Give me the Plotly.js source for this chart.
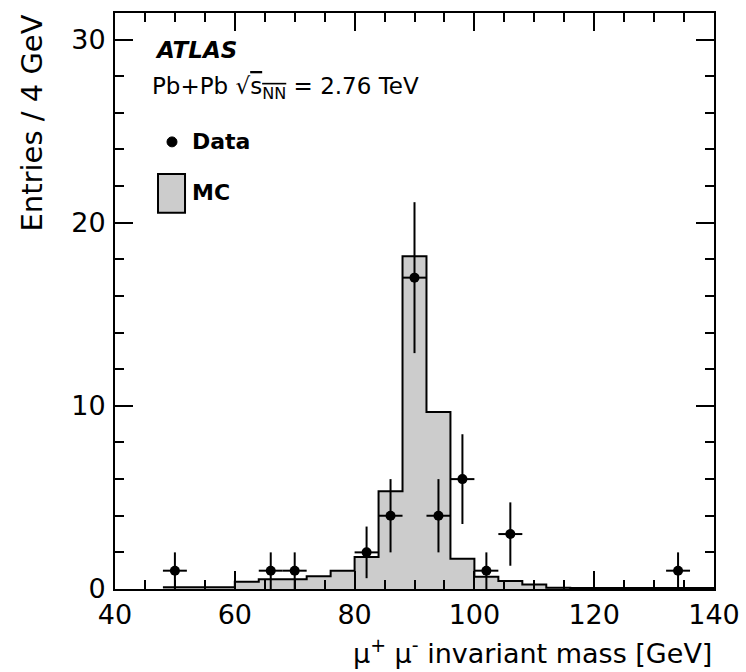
<!DOCTYPE html>
<html>
<head>
<meta charset="utf-8">
<script src="https://cdn.plot.ly/plotly-3.0.1.min.js"></script>
<style>html,body{margin:0;padding:0;background:#fff;} #chart{width:746px;height:672px;}</style>
</head>
<body>
<div id="chart"></div>
<script>
// Data points (bin centres, counts, statistical errors)
const dataMass   = [50, 66, 70, 82, 86, 90, 94, 98, 102, 106, 134];
const dataCounts = [1, 1, 1, 2, 4, 17, 4, 6, 1, 3, 1];
const dataErr    = [1, 1, 1, 1.41, 2, 4.12, 2, 2.45, 1, 1.73, 1];
const binWidth   = 4;

// MC histogram: bin edges and contents
const mcEdges = [48, 52, 56, 60, 64, 68, 72, 76, 80, 84, 88, 92, 96, 100, 104, 108, 112, 116, 120, 124, 128, 132, 136, 140];
const mcValues = [0.1, 0.1, 0.1, 0.39, 0.53, 0.53, 0.69, 1.0, 1.75, 5.34, 18.17, 9.67, 1.65, 0.67, 0.43, 0.25, 0.07, 0.06, 0.05, 0.05, 0.05, 0.05, 0.05];

const xTickVals = [40, 60, 80, 100, 120, 140];
const yTickVals = [0, 10, 20, 30];

const mcY = mcValues.concat([mcValues[mcValues.length - 1]]);

const font = 'DejaVu Sans, Verdana, sans-serif';

const traces = [
  {
    type: 'scatter', mode: 'lines', name: 'MC',
    x: mcEdges, y: mcY,
    line: {shape: 'hv', color: '#000', width: 2},
    fill: 'tozeroy', fillcolor: '#cccccc',
    showlegend: false, hoverinfo: 'skip'
  },
  {
    type: 'scatter', mode: 'markers', name: 'Data',
    x: dataMass, y: dataCounts,
    marker: {color: '#000', size: 10},
    error_y: {type: 'data', array: dataErr, color: '#000', thickness: 2, width: 0},
    error_x: {type: 'constant', value: binWidth / 2, color: '#000', thickness: 2, width: 0},
    showlegend: false
  }
];

const axisCommon = {
  showline: true, linecolor: '#000', linewidth: 2, mirror: 'ticks',
  ticks: 'inside', ticklen: 18, tickwidth: 2, tickcolor: '#000',
  showgrid: false, zeroline: false,
  tickfont: {family: font, size: 27, color: '#000'}
};

const layout = {
  width: 746, height: 672,
  margin: {l: 115, r: 32, t: 13, b: 82.5},
  paper_bgcolor: '#fff', plot_bgcolor: '#fff',
  showlegend: false,
  xaxis: Object.assign({}, axisCommon, {
    range: [40, 140], tickmode: 'array', tickvals: xTickVals,
    minor: {dtick: 5, ticks: 'inside', ticklen: 9, tickwidth: 2, tickcolor: '#000'},
    ticklabelstandoff: 1
  }),
  yaxis: Object.assign({}, axisCommon, {
    range: [0, 31.45], tickmode: 'array', tickvals: yTickVals,
    minor: {dtick: 2, ticks: 'inside', ticklen: 9, tickwidth: 2, tickcolor: '#000'},
    ticklabelstandoff: 2
  }),
  shapes: [
    {type: 'rect', xref: 'paper', yref: 'paper', x0: 0.0718, x1: 0.1169, y0: 0.653, y1: 0.7207,
     line: {color: '#000', width: 2}, fillcolor: '#cccccc'},
    {type: 'circle', xref: 'paper', yref: 'paper', x0: 0.0868, x1: 0.1035, y0: 0.7676, y1: 0.7849,
     line: {color: '#000', width: 1}, fillcolor: '#000'}
  ],
  annotations: [
    {text: 'Entries / 4 GeV', xref: 'paper', yref: 'paper', x: 0, y: 1, xshift: -65,
     xanchor: 'right', yanchor: 'top', textangle: -90, showarrow: false,
     font: {family: font, size: 29, color: '#000'}},
    {text: 'μ<sup>+</sup> μ<sup>-</sup> invariant mass [GeV]', xref: 'paper', yref: 'paper', x: 1, y: 0,
     xanchor: 'right', yanchor: 'bottom', yshift: -81.5, showarrow: false,
     font: {family: font, size: 27, color: '#000'}},
    {text: '<b><i>ATLAS</i></b>', xref: 'paper', yref: 'paper', x: 0.0634, y: 0.9358,
     xanchor: 'left', yanchor: 'middle', showarrow: false,
     font: {family: font, size: 23, color: '#000'}},
    {text: 'Pb+Pb √<span style="text-decoration:overline">s<sub>NN</sub></span> = 2.76 TeV', xref: 'paper', yref: 'paper', x: 0.0584, y: 0.8699,
     xanchor: 'left', yanchor: 'middle', showarrow: false,
     font: {family: font, size: 23, color: '#000'}},
    {text: '<b>Data</b>', xref: 'paper', yref: 'paper', x: 0.1252, y: 0.7762,
     xanchor: 'left', yanchor: 'middle', showarrow: false,
     font: {family: font, size: 22, color: '#000'}},
    {text: '<b>MC</b>', xref: 'paper', yref: 'paper', x: 0.1252, y: 0.6878,
     xanchor: 'left', yanchor: 'middle', showarrow: false,
     font: {family: font, size: 22, color: '#000'}}
  ]
};

Plotly.newPlot('chart', traces, layout, {staticPlot: true, displayModeBar: false});
</script>
</body>
</html>
